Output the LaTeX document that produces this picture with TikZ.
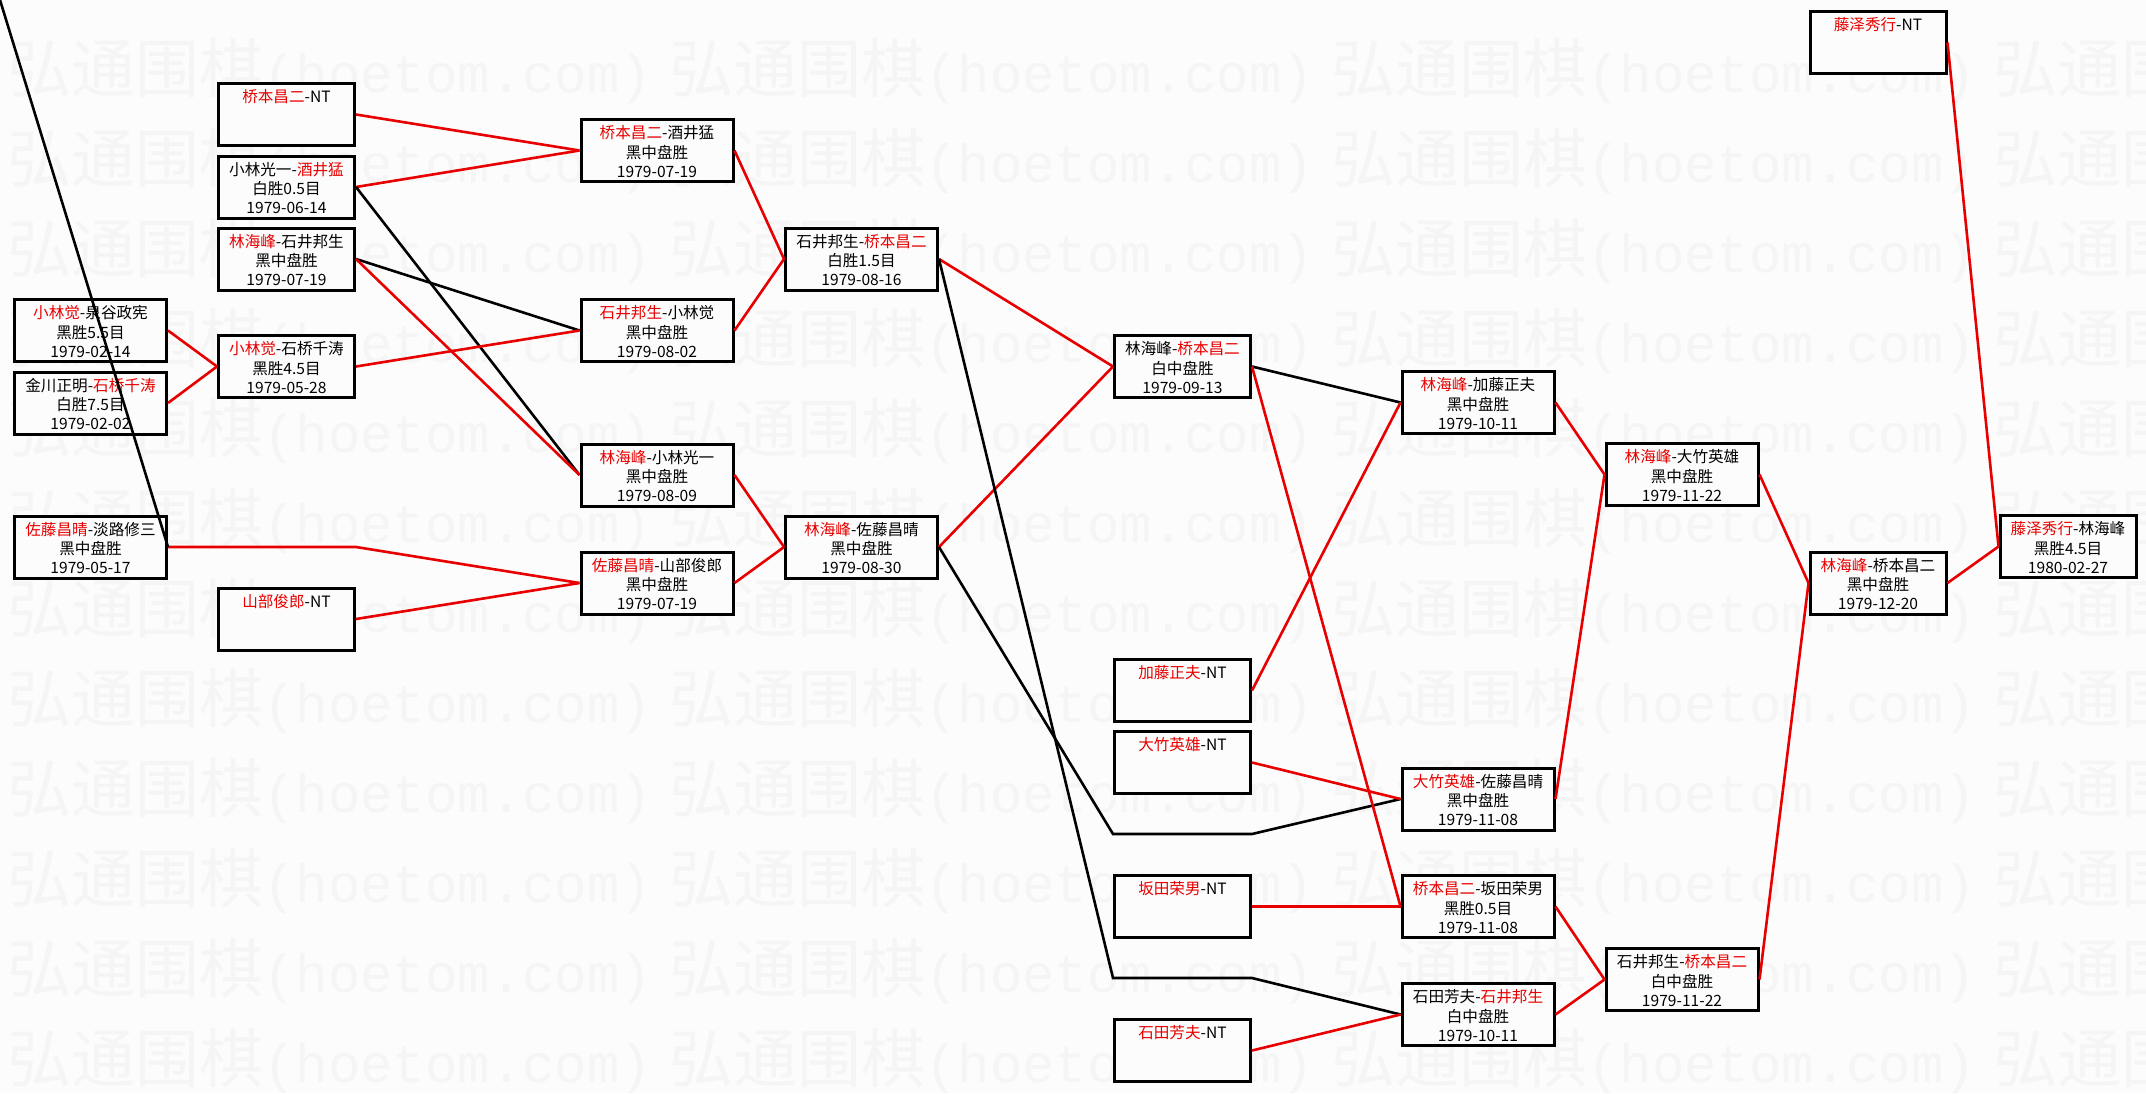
\documentclass[tikz,border=0pt]{standalone}
\usepackage{fontspec}
\setmainfont{Noto Sans CJK SC}
\newfontfamily\wmmono{Liberation Mono}
\definecolor{winred}{RGB}{232,0,0}
\definecolor{paper}{RGB}{252,252,252}
\definecolor{wmgray}{RGB}{245,245,245}
\newcommand{\redname}[1]{\textcolor{winred}{#1}}
\begin{document}
\begin{tikzpicture}[x=1pt, y=-1pt,
    game/.style={draw=black, line width=3pt, fill=paper, inner sep=0pt,
      text width=152pt, align=center, text height=19.3pt, text depth=42.7pt,
      font=\fontsize{15.6}{19.2}\selectfont},
    gamenarrow/.style={game, text width=136pt},
    winline/.style={draw=winred, line width=2.6pt},
    loseline/.style={draw=black, line width=2.6pt},
    wmtext/.style={text=wmgray, inner sep=0pt, anchor=base west}]
    \useasboundingbox[fill=paper] (0,0) rectangle (2146,1093);
    \begin{scope}
        \clip (0,0) rectangle (2146,1093);
        \foreach \r in {0,...,11}
            \foreach \c in {0,...,3}
                \node[wmtext] (wm-\r-\c) at (7+662*\c, 92+90*\r)
                    {\fontsize{64}{70}\selectfont 弘通围棋\wmmono\fontsize{54}{60}\selectfont(hoetom.com)};
    \end{scope}

    \node[game] (c1a) at (90.5,330.5) {\redname{小林觉}-泉谷政宪\\黑胜5.5目\\1979-02-14};
    \node[game] (c1b) at (90.5,403) {金川正明-\redname{石桥千涛}\\白胜7.5目\\1979-02-02};
    \node[game] (c1c) at (90.5,547) {\redname{佐藤昌晴}-淡路修三\\黑中盘胜\\1979-05-17};

    \node[gamenarrow] (c2a) at (286.5,114.5) {\redname{桥本昌二}-NT};
    \node[gamenarrow] (c2b) at (286.5,187) {小林光一-\redname{酒井猛}\\白胜0.5目\\1979-06-14};
    \node[gamenarrow] (c2c) at (286.5,259) {\redname{林海峰}-石井邦生\\黑中盘胜\\1979-07-19};
    \node[gamenarrow] (c2d) at (286.5,366.5) {\redname{小林觉}-石桥千涛\\黑胜4.5目\\1979-05-28};
    \node[gamenarrow] (c2e) at (286.5,619) {\redname{山部俊郎}-NT};

    \node[game] (c3a) at (657,150.5) {\redname{桥本昌二}-酒井猛\\黑中盘胜\\1979-07-19};
    \node[game] (c3b) at (657,330.5) {\redname{石井邦生}-小林觉\\黑中盘胜\\1979-08-02};
    \node[game] (c3c) at (657,475) {\redname{林海峰}-小林光一\\黑中盘胜\\1979-08-09};
    \node[game] (c3d) at (657,583) {\redname{佐藤昌晴}-山部俊郎\\黑中盘胜\\1979-07-19};

    \node[game] (c4a) at (861.5,259) {石井邦生-\redname{桥本昌二}\\白胜1.5目\\1979-08-16};
    \node[game] (c4b) at (861.5,547) {\redname{林海峰}-佐藤昌晴\\黑中盘胜\\1979-08-30};

    \node[gamenarrow] (c5a) at (1182.5,366.5) {林海峰-\redname{桥本昌二}\\白中盘胜\\1979-09-13};
    \node[gamenarrow] (c5b) at (1182.5,690.5) {\redname{加藤正夫}-NT};
    \node[gamenarrow] (c5c) at (1182.5,762.5) {\redname{大竹英雄}-NT};
    \node[gamenarrow] (c5d) at (1182.5,906.5) {\redname{坂田荣男}-NT};
    \node[gamenarrow] (c5e) at (1182.5,1050.5) {\redname{石田芳夫}-NT};

    \node[game] (c6a) at (1478,402.5) {\redname{林海峰}-加藤正夫\\黑中盘胜\\1979-10-11};
    \node[game] (c6b) at (1478,799) {\redname{大竹英雄}-佐藤昌晴\\黑中盘胜\\1979-11-08};
    \node[game] (c6c) at (1478,906.5) {\redname{桥本昌二}-坂田荣男\\黑胜0.5目\\1979-11-08};
    \node[game] (c6d) at (1478,1014.5) {石田芳夫-\redname{石井邦生}\\白中盘胜\\1979-10-11};

    \node[game] (c7a) at (1682,474.5) {\redname{林海峰}-大竹英雄\\黑中盘胜\\1979-11-22};
    \node[game] (c7b) at (1682,979.5) {石井邦生-\redname{桥本昌二}\\白中盘胜\\1979-11-22};

    \node[gamenarrow] (c8a) at (1878,583) {\redname{林海峰}-桥本昌二\\黑中盘胜\\1979-12-20};
    \node[gamenarrow] (c8b) at (1878,42.5) {\redname{藤泽秀行}-NT};

    \node[gamenarrow] (c9a) at (2068,546.5) {\redname{藤泽秀行}-林海峰\\黑胜4.5目\\1980-02-27};

    \coordinate (topin) at (0,0);
    \coordinate (bendc1) at (c2e.east |- c1c.east);
    \coordinate (bendc4a) at (1113,978);
    \coordinate (bendc4b) at (1252,978);
    \coordinate (bendc5a) at (1113,834);
    \coordinate (bendc5b) at (1252,834);

    \draw[winline] (c1a.east) -- (c2d.west);
    \draw[winline] (c1b.east) -- (c2d.west);
    \draw[winline] (c1c.east) -- (bendc1) -- (c3d.west);
    \draw[loseline] (topin) -- (c1c.east);

    \draw[winline] (c2a.east) -- (c3a.west);
    \draw[winline] (c2b.east) -- (c3a.west);
    \draw[loseline] (c2b.east) -- (c3c.west);
    \draw[loseline] (c2c.east) -- (c3b.west);
    \draw[winline] (c2c.east) -- (c3c.west);
    \draw[winline] (c2d.east) -- (c3b.west);
    \draw[winline] (c2e.east) -- (c3d.west);

    \draw[winline] (c3a.east) -- (c4a.west);
    \draw[winline] (c3b.east) -- (c4a.west);
    \draw[winline] (c3c.east) -- (c4b.west);
    \draw[winline] (c3d.east) -- (c4b.west);

    \draw[winline] (c4a.east) -- (c5a.west);
    \draw[winline] (c4b.east) -- (c5a.west);
    \draw[loseline] (c4a.east) -- (bendc4a) -- (bendc4b) -- (c6d.west);
    \draw[loseline] (c4b.east) -- (bendc5a) -- (bendc5b) -- (c6b.west);

    \draw[loseline] (c5a.east) -- (c6a.west);
    \draw[winline] (c5a.east) -- (c6c.west);
    \draw[winline] (c5b.east) -- (c6a.west);
    \draw[winline] (c5c.east) -- (c6b.west);
    \draw[winline] (c5d.east) -- (c6c.west);
    \draw[winline] (c5e.east) -- (c6d.west);

    \draw[winline] (c6a.east) -- (c7a.west);
    \draw[winline] (c6b.east) -- (c7a.west);
    \draw[winline] (c6c.east) -- (c7b.west);
    \draw[winline] (c6d.east) -- (c7b.west);

    \draw[winline] (c7a.east) -- (c8a.west);
    \draw[winline] (c7b.east) -- (c8a.west);

    \draw[winline] (c8a.east) -- (c9a.west);
    \draw[winline] (c8b.east) -- (c9a.west);
\end{tikzpicture}
\end{document}
